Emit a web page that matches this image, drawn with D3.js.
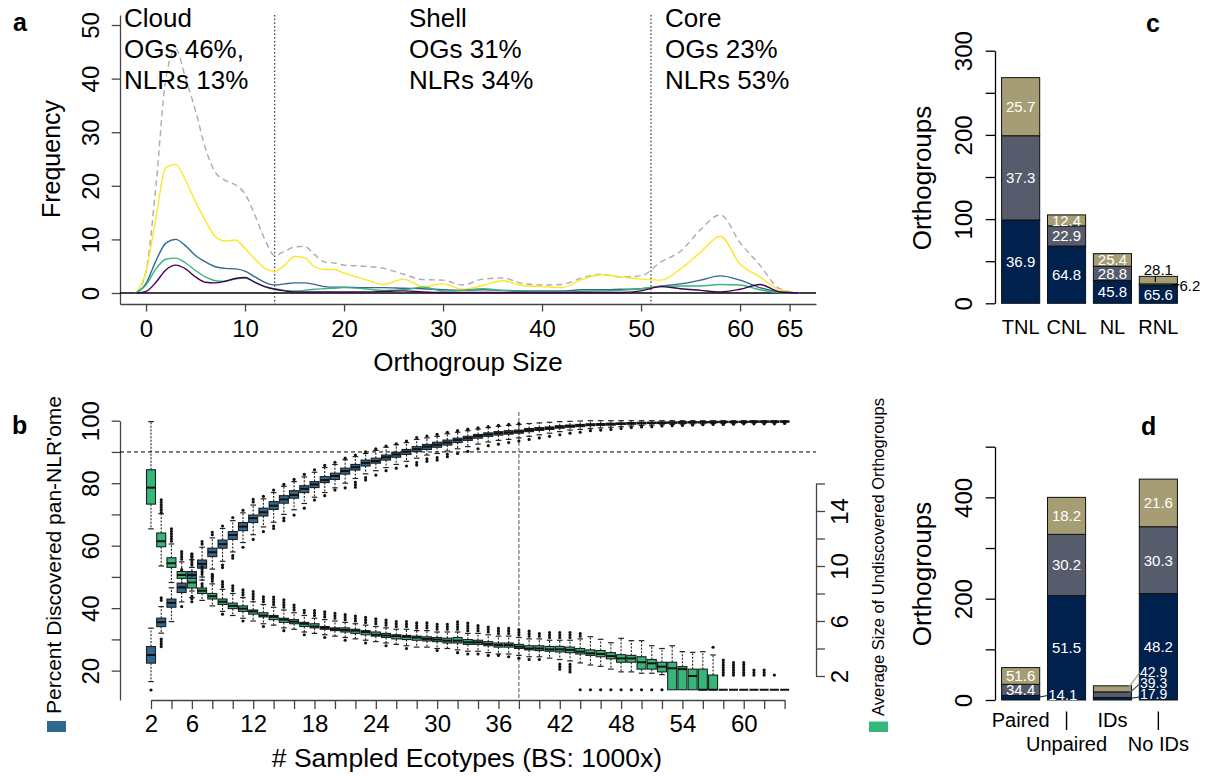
<!DOCTYPE html>
<html>
<head>
<meta charset="utf-8">
<script src="https://cdn.jsdelivr.net/npm/d3@7/dist/d3.min.js"></script>
<style>
  body { margin: 0; background: #fff; }
  text { font-family: "Liberation Sans", Arial, Helvetica, sans-serif; }
</style>
</head>
<body>
<svg id="fig" width="1213" height="776"></svg>
<script>
// ---------------- data: panel a (orthogroup size densities) ----------------
var ogSizes = [-1,0,1,2,3,4,5,6,7,8,9,10,11,12,13,14,15,16,17,18,19,20,22,24,26,28,30,32,34,36,38,40,42,44,46,48,50,52,54,56,58,60,62,64,66];
var densTotal  = [0,4,20,40,45.5,40,34,27,22.5,21,20.2,18.5,14.5,10,7,7.8,8.6,8.7,7.2,5.8,5.6,5.2,5.0,4.6,3.5,2.5,2.4,1.5,2.6,2.8,1.8,1.5,1.6,2.8,3.5,3.0,3.2,5.8,7.8,11.8,14.6,9.4,5.2,0.8,0];
var densYellow = [0,4,14,23.5,24,21,17,13.5,10.5,9.7,9.9,8.3,6.3,4.6,4.0,5.2,6.8,6.6,4.9,4.4,4.4,3.7,2.6,1.6,2.6,1.2,1.7,0.7,1.4,2.3,1.4,1.2,1.0,2.5,3.4,3.0,2.6,2.4,4.5,7.6,10.6,5.4,3.0,0.6,0];
var densBlue   = [0,1.8,6,9.3,10,8.8,7,5.8,4.9,4.6,4.5,4.1,3,2,1.5,1.7,1.9,1.9,1.6,1.2,1.1,1.1,1.0,1.0,0.9,0.8,0.6,0.5,0.6,0.5,0.4,0.4,0.4,0.6,0.6,0.7,0.8,1.3,1.7,2.4,3.2,2.4,1.0,0.2,0];
var densGreen  = [0,1.5,4.5,6.3,6.5,5.6,4.2,3,2.3,2.2,2.6,2.8,2.0,1.2,0.8,0.5,0.4,0.5,0.7,0.8,0.9,1.0,0.8,0.5,0.6,1.1,0.4,0.5,0.8,0.5,0.3,0.2,0.2,0.3,0.4,0.5,0.8,1.2,1.3,1.3,1.6,1.5,0.6,0.1,0];
var densPurple = [0,0.3,2,4.3,5.2,4.5,3,2,1.9,2.2,2.7,2.9,2,1.2,0.7,0.4,0.2,0.2,0.2,0.2,0.2,0.2,0.2,0.3,0.4,0.2,0.1,0.1,0.1,0.1,0.1,0.1,0.1,0.1,0.1,0.1,0.4,1.2,0.8,0.5,0.2,0.7,1.6,0.2,0];
var sizeTicks = [0,10,20,30,40,50,60,65];
var freqTicks = [0,10,20,30,40,50];
var regionCuts = [13, 51];
var regionNames = ["Cloud", "Shell", "Core"];
var regionOGs = ["OGs 46%,", "OGs 31%", "OGs 23%"];
var regionNLRs = ["NLRs 13%", "NLRs 34%", "NLRs 53%"];

// ---------------- data: panel b (rarefaction boxplots, n = 2..64) ----------------
var ecotypes = d3.range(2, 65);
var ecoTickLabels = [2,6,12,18,24,30,36,42,48,54,60];
var pctTickLabels = [20,40,60,80,100];
var sizeTickLabels = [2,6,10,14];
var saturationPct = 90;
var saturationN = 38;

// percent of pan-NLR'ome discovered (left axis)
var pctMed = [25,35.5,41.7,46.6,50.6,54.2,57.9,60.5,63.4,66.1, 68.8,70.7,72.8,74.8,76.2,78.2,79.6,81.0,82.3,83.9, 85.1,86.5,87.1,88.3,89.2,90.1,90.9,91.7,92.3,93.0, 93.8,94.4,95.1,95.6,96.0,96.2,96.5,97.0,97.3,97.6, 98.0,98.3,98.5,98.7,98.8,98.9,99.0,99.1,99.2,99.3, 99.3,99.4,99.4,99.5,99.5,99.5,99.6,99.6,99.6,99.7, 99.7,99.7,99.7];
var pctQ1  = [22.4,34.1,40.3,45.0,49.0,52.8,56.5,59.2,62.0,64.8, 67.4,69.5,71.6,73.6,75.2,77.0,78.6,80.2,81.2,82.9, 84.2,85.5,86.4,87.4,88.3,89.2,90.1,90.8,91.5,92.2, 93.0,93.7,94.4,95.0,95.4,95.7,96.0,96.5,96.9,97.2, 97.6,97.9,98.1,98.4,98.5,98.6,98.8,98.9,99.0,99.1, 99.1,99.2,99.2,99.3,99.3,99.4,99.4,99.4,99.5,99.5, 99.5,99.5,99.6];
var pctQ3  = [27.7,36.8,42.9,48.0,51.7,55.4,59.2,61.8,64.5,67.4, 69.8,72.0,74.1,76.0,77.6,79.2,80.5,82.1,83.2,84.8, 86.0,87.4,88.0,89.0,89.9,90.8,91.7,92.4,93.1,93.8, 94.4,95.0,95.6,96.1,96.5,96.8,97.0,97.5,97.8,98.0, 98.4,98.6,98.8,99.0,99.1,99.2,99.3,99.4,99.5,99.5, 99.6,99.6,99.7,99.7,99.7,99.8,99.8,99.8,99.8,99.9, 99.9,99.9,99.9];
var pctWhiHi = [33.6,40.5,46.5,51.3,55.5,59.5,62.5,65.5,68.0,70.5, 73.0,75.0,77.0,79.0,80.5,82.0,83.5,85.0,86.0,87.5, 88.5,89.5,90.5,91.5,92.3,93.0,94.0,94.5,95.0,95.8, 96.3,96.8,97.3,97.8,98.2,98.5,98.8,99.1,99.3,99.5, 99.7,99.8,99.9,100,100,100,100,100,100,100, 100,100,100,100,100,100,100,100,100,100, 100,100,100];
var pctWhiLo = [16.5,32.0,35.7,42.0,45.5,49.0,52.5,55.0,58.0,61.0, 63.5,66.0,67.5,70.0,71.5,73.5,75.5,77.0,78.5,80.0, 81.5,83.0,84.0,85.0,86.0,87.0,88.0,89.0,89.5,90.3, 91.0,91.7,92.5,93.2,93.7,94.0,94.5,95.0,95.5,96.0, 96.5,97.0,97.2,97.5,97.7,97.9,98.1,98.3,98.5,98.6, 98.7,98.8,98.9,99.0,99.0,99.1,99.1,99.2,99.2,99.3, 99.3,99.3,99.4];
// outlier clusters: [n, from, to]
var pctOutliers = [
  [3,42.5,43.7],[5,52.3,53.0],[6,56.6,57.6],[7,60.5,61.5],[8,63.5,64.5],[9,66.3,67.0],[10,69.0,69.8],[11,71.3,72.0],
  [12,74.0,75.2],[13,75.8,76.5],[14,77.8,78.1],[15,79.6,80.0],[16,81.2,81.5],[17,82.8,83.5],[18,84.3,84.8],[19,85.7,86.0],
  [20,86.7,87.1],[21,88.0,88.3],[22,89.0,89.2],[23,90.0,90.3],[24,91.0,91.2],[25,91.9,92.0],[26,92.6,92.7],[27,93.5,93.8],
  [28,94.6,95.4],[29,95.1,95.5],[30,95.6,96.0],[31,96.3,96.5],[32,96.8,97.2],[33,97.3,97.5],[34,97.7,97.8],[35,98.1,98.2],
  [36,98.5,98.6],[37,98.8,98.9],[38,99.1,99.2],
  [2,13.8,13.8],[3,27.7,30.5],[5,40.5,41.2],[6,43.0,44.5],[7,47.0,48.0],[8,50.0,51.5],[9,53.0,54.0],[10,56.0,57.0],
  [11,59.5,60.0],[12,62.0,62.5],[13,64.5,65.0],[14,65.5,66.5],[15,68.0,69.0],[16,69.8,70.5],[17,72.0,72.8],[18,74.6,75.0],
  [19,76.0,76.5],[20,77.8,78.0],[21,78.5,79.2],[22,78.7,80.5],[23,81.0,82.0],[24,82.6,83.2],[25,84.0,84.3],[26,84.8,85.2],
  [27,85.5,86.3],[28,85.8,87.0],[29,87.0,88.0],[30,87.4,88.5],[31,88.5,89.5],[32,89.5,90.3],[33,90.2,91.0],[34,91.0,91.8],
  [35,92.0,92.5],[36,92.5,93.0],[37,93.0,93.5],[38,93.5,94.0],[39,94.0,94.5],[40,94.5,95.0],[41,95.0,95.5],[42,95.5,96.0],
  [43,96.0,96.5],[44,96.3,96.8],[45,96.8,97.1],[46,97.0,97.3],[47,97.2,97.5],[48,97.5,97.7],[49,97.8,98.0],[50,98.0,98.2],
  [51,98.1,98.3],[52,98.3,98.5],[53,98.4,98.6],[54,98.5,98.7],[55,98.6,98.8],[56,98.7,98.8],[57,98.8,98.9],[58,98.8,98.9],
  [59,98.9,99.0],[60,99.0,99.0],[61,99.0,99.1],[62,99.0,99.1],[63,99.0,99.1],[64,99.1,99.2]
];

// average size of undiscovered orthogroups (right axis)
var sizeMed = [15.7,11.8,10.2,9.35,8.8,8.2,7.8,7.4,7.1,6.9, 6.7,6.4,6.3,6.1,5.95,5.8,5.6,5.5,5.4,5.35, 5.3,5.2,5.0,4.95,4.9,4.85,4.8,4.7,4.65,4.57, 4.57,4.45,4.45,4.33,4.25,4.25,4.13,4.0,4.0,3.94, 3.94,3.9,3.77,3.65,3.6,3.45,3.28,3.28,3.0,2.92, 2.68,2.56,2.5,2.0,1.0,1.0,1.0,1.0,1.0,1.0, 1.0,1.0,1.0];
var sizeQ1  = [14.5,11.4,9.9,9.1,8.4,8.0,7.6,7.2,6.9,6.7, 6.5,6.3,6.1,5.9,5.8,5.6,5.5,5.4,5.3,5.2, 5.1,5.0,4.9,4.8,4.7,4.65,4.6,4.55,4.5,4.4, 4.4,4.3,4.3,4.2,4.1,4.1,4.0,3.9,3.85,3.8, 3.75,3.7,3.6,3.5,3.4,3.25,3.0,3.0,2.5,2.5, 2.3,1.0,1.0,1.0,1.0,1.0,1.0,1.0,1.0,1.0, 1.0,1.0,1.0];
var sizeQ3  = [17.0,12.4,10.6,9.6,9.1,8.4,8.0,7.6,7.3,7.1, 6.8,6.6,6.4,6.2,6.1,5.9,5.8,5.6,5.5,5.5, 5.4,5.3,5.2,5.1,5.0,4.95,4.9,4.85,4.8,4.75, 4.8,4.65,4.6,4.5,4.4,4.4,4.3,4.2,4.2,4.15, 4.15,4.1,4.0,3.9,3.85,3.7,3.55,3.5,3.4,3.2, 3.0,3.0,2.68,2.5,2.5,2.07,1.0,1.0,1.0,1.0, 1.0,1.0,1.0];
var sizeWhiHi = [20.5,13.8,11.6,10.3,9.9,9.2,8.7,8.3,8.0,7.7, 7.4,7.2,7.0,6.8,6.6,6.4,6.2,6.1,6.0,5.9, 5.8,5.7,5.6,5.5,5.4,5.4,5.3,5.3,5.2,5.2, 5.2,5.1,5.1,5.0,4.9,4.9,4.8,4.7,4.7,4.6, 4.6,4.6,4.7,4.86,4.67,4.42,4.74,4.57,4.57,4.2, 4.0,4.2,3.77,3.72,3.77,3.53,1.0,1.0,1.0,1.0, 1.0,1.0,1.0];
var sizeWhiLo = [12.7,10.0,8.8,8.5,7.7,7.5,7.1,6.7,6.4,6.2, 6.0,5.8,5.7,5.5,5.4,5.2,5.1,5.0,4.9,4.8, 4.7,4.6,4.5,4.4,4.3,4.2,4.1,4.1,4.0,4.0, 3.9,3.8,3.8,3.7,3.6,3.6,3.5,3.4,3.4,3.3, 3.2,3.1,2.95,2.8,2.7,2.5,2.3,2.3,2.2,2.2, 2.1,1.0,1.0,1.0,1.0,1.0,1.0,1.0,1.0,1.0, 1.0,1.0,1.0];
var sizeOutliers = [
  [3,13.9,14.9],[4,11.8,12.8],[5,10.5,11.2],[6,10.1,10.9],[7,9.4,10.0],[8,8.9,9.4],[9,8.5,9.0],[10,8.2,8.6],[11,7.9,8.4],
  [12,7.6,8.2],[13,7.4,7.9],[14,7.2,7.8],[15,7.0,7.6],[16,6.8,7.2],[17,6.6,6.9],[18,6.4,6.8],[19,6.3,6.7],[20,6.2,6.6],
  [21,6.1,6.5],[22,6.0,6.4],[23,5.9,6.3],[24,5.8,6.2],[25,5.7,6.1],[26,5.6,6.1],[27,5.6,6.0],[28,5.5,6.0],[29,5.5,5.9],
  [30,5.4,5.9],[31,5.4,5.9],[32,5.4,6.0],[33,5.3,5.9],[34,5.3,5.7],[35,5.2,5.6],[36,5.1,5.6],[37,5.1,5.5],[38,5.0,5.5],
  [39,4.9,5.4],[40,4.9,5.2],[41,4.8,5.3],[42,4.8,5.3],[43,4.8,5.2],[44,4.9,5.1],[57,4.09,4.09],
  [58,2.07,3.29],[59,2.07,3.04],[60,2.07,3.04],[61,2.07,2.58],[62,2.07,2.58],[63,2.07,2.07],
  [6,7.4,7.5],[9,6.5,6.6],[11,6.0,6.1],[13,5.6,5.7],[15,5.3,5.4],[17,5.0,5.1],[19,4.8,4.9],[21,4.6,4.7],[23,4.4,4.5],
  [25,4.2,4.3],[27,4.0,4.1],[30,3.85,3.9],[32,3.7,3.8],[33,3.6,3.7],[34,3.6,3.7],[35,3.5,3.6],[36,3.5,3.5],[37,3.4,3.5],
  [38,3.3,3.4],[39,3.2,3.3],[40,3.2,3.3],[42,2.5,3.0],[43,2.3,2.9],
  [44,1.0,1.0],[45,1.0,1.0],[46,1.0,1.0],[47,1.0,1.0],[48,1.0,1.0],[49,1.0,1.0],[50,1.0,1.0],[51,1.0,1.0],[52,1.0,1.0]
];

// ---------------- data: panels c and d (stacked bars) ----------------
var classColors = ["#00204D", "#575C6D", "#A69D75"];
var cCats = ["TNL", "CNL", "NL", "RNL"];
var cDark = [99, 68, 27, 21];
var cMid = [100, 24, 17, 2];
var cLight = [69, 13, 15, 9];
var cDarkPct = ["36.9", "64.8", "45.8", "65.6"];
var cMidPct = ["37.3", "22.9", "28.8", "6.2"];
var cLightPct = ["25.7", "12.4", "25.4", "28.1"];

var dCats = ["Paired", "Unpaired", "IDs", "No IDs"];
var dDark = [9, 206, 5, 210];
var dMid = [22, 121, 11, 132];
var dLight = [33, 73, 12, 94];
var dDarkPct = ["14.1", "51.5", "17.9", "48.2"];
var dMidPct = ["34.4", "30.2", "39.3", "30.3"];
var dLightPct = ["51.6", "18.2", "42.9", "21.6"];

// ---------------------------------------------------------------------------
var svg = d3.select("#fig");
var FONT = '"Liberation Sans", Arial, Helvetica, sans-serif';
var axisCol = "#444";

function styleAxis(g, col, size) {
	g.attr("font-family", FONT).attr("font-size", size);
	g.select(".domain").attr("stroke", col).attr("stroke-width", 1.3);
	g.selectAll(".tick line").attr("stroke", col).attr("stroke-width", 1.3);
	g.selectAll(".tick text").attr("fill", "#000");
}

// rotate the labels of a vertical axis so they read bottom to top
function rotateLabels(g, dx) {
	g.selectAll(".tick text")
	    .attr("x", 0).attr("dy", 0)
	    .attr("text-anchor", "middle")
	    .attr("transform", "translate(" + dx + ",0) rotate(-90)");
}

function only(list) {
	return function(d) { return list.indexOf(d) >= 0 ? d : ""; };
}

// ======================= panel a =======================
var xA = d3.scaleLinear().domain([-2.63, 67.67]).range([120, 816]);
var yA = d3.scaleLinear().domain([-2.05, 51.87]).range([304, 15]);
var gA = svg.append("g");

var axA = gA.append("g").attr("transform", "translate(0,304)")
    .call(d3.axisBottom(xA).tickValues(sizeTicks).tickSize(7.5).tickSizeOuter(0));
styleAxis(axA, axisCol, 24);
axA.selectAll(".tick text").attr("dy", 0).attr("y", 32.7);

var ayA = gA.append("g").attr("transform", "translate(120,0)")
    .call(d3.axisLeft(yA).tickValues(freqTicks).tickSize(8.3).tickSizeOuter(0));
styleAxis(ayA, axisCol, 24);
rotateLabels(ayA, -20.7);

// zero line
gA.append("line")
    .attr("x1", 120).attr("x2", 816)
    .attr("y1", yA(0)).attr("y2", yA(0))
    .attr("stroke", "#000").attr("stroke-width", 1.4);

// region borders
gA.selectAll("line.cut").data(regionCuts).enter().append("line")
    .attr("class", "cut")
    .attr("x1", function(d) { return xA(d); }).attr("x2", function(d) { return xA(d); })
    .attr("y1", 15).attr("y2", 304)
    .attr("stroke", "#000").attr("stroke-width", 1)
    .attr("stroke-dasharray", "1.5,2.2");

// density curves
var lineA = d3.line()
    .x(function(d, i) { return xA(ogSizes[i]); })
    .y(function(d) { return yA(d); })
    .curve(d3.curveMonotoneX);

var curves = [
	{ vals: densTotal, color: "#ababab", dash: "6,4" },
	{ vals: densYellow, color: "#FDE725", dash: null },
	{ vals: densBlue, color: "#31688E", dash: null },
	{ vals: densGreen, color: "#35B779", dash: null },
	{ vals: densPurple, color: "#440154", dash: null }
];
curves.forEach(function(c) {
	gA.append("path")
	    .attr("d", lineA(c.vals))
	    .attr("fill", "none")
	    .attr("stroke", c.color)
	    .attr("stroke-width", 1.4)
	    .attr("stroke-dasharray", c.dash);
});

// region annotations
var regionX = [124, 409, 665];
regionNames.forEach(function(name, i) {
	var t = gA.append("text").attr("font-size", 26).attr("fill", "#000");
	[name, regionOGs[i], regionNLRs[i]].forEach(function(s, k) {
		t.append("tspan").attr("x", regionX[i]).attr("y", 27 + k * 31).text(s);
	});
});

gA.append("text")
    .attr("transform", "translate(60,159) rotate(-90)")
    .attr("text-anchor", "middle").attr("font-size", 25)
    .text("Frequency");
gA.append("text")
    .attr("x", 468).attr("y", 371)
    .attr("text-anchor", "middle").attr("font-size", 26)
    .text("Orthogroup Size");

// ======================= panel b =======================
var xB = d3.scaleLinear().domain([2, 64]).range([151, 784.6]);
var yL = d3.scaleLinear().domain([10.6, 100]).range([700, 420.7]);
var yR = d3.scaleLinear().domain([2, 16]).range([676, 483.5]);
var gB = svg.append("g");

var axB = gB.append("g").attr("transform", "translate(0,700)")
    .call(d3.axisBottom(xB).tickValues(d3.range(2, 65, 2)).tickSize(9).tickSizeOuter(0).tickFormat(only(ecoTickLabels)));
styleAxis(axB, axisCol, 24);
axB.selectAll(".tick text").attr("dy", 0).attr("y", 31.7);

var ayL = gB.append("g").attr("transform", "translate(120,0)")
    .call(d3.axisLeft(yL).tickValues(d3.range(20, 101, 10)).tickSize(8.3).tickSizeOuter(0).tickFormat(only(pctTickLabels)));
styleAxis(ayL, axisCol, 24);
rotateLabels(ayL, -20.7);

var ayR = gB.append("g").attr("transform", "translate(816,0)")
    .call(d3.axisRight(yR).tickValues(d3.range(2, 17, 2)).tickSize(9).tickSizeOuter(0).tickFormat(only(sizeTickLabels)));
styleAxis(ayR, axisCol, 24);
rotateLabels(ayR, 32.3);

// 90% saturation line and the ecotype count reaching it
gB.append("line")
    .attr("x1", 120).attr("x2", 816)
    .attr("y1", yL(saturationPct)).attr("y2", yL(saturationPct))
    .attr("stroke", "#000").attr("stroke-width", 1).attr("stroke-dasharray", "4,3");
gB.append("line")
    .attr("x1", xB(saturationN)).attr("x2", xB(saturationN))
    .attr("y1", 412).attr("y2", 700)
    .attr("stroke", "#555").attr("stroke-width", 1).attr("stroke-dasharray", "4,2");

var boxW = 9;

function drawBoxes(g, y, med, q1, q3, wLo, wHi, outliers, fill) {
	var rows = ecotypes.map(function(n, i) {
		return { n: n, med: med[i], q1: q1[i], q3: q3[i], lo: wLo[i], hi: wHi[i] };
	});
	var grp = g.append("g");
	var box = grp.selectAll("g").data(rows).enter().append("g")
	    .attr("transform", function(d) { return "translate(" + xB(d.n) + ",0)"; });

	// whiskers
	box.filter(function(d) { return d.hi > d.q3; }).append("line")
	    .attr("y1", function(d) { return y(d.q3); }).attr("y2", function(d) { return y(d.hi); })
	    .attr("stroke", "#222").attr("stroke-width", 1.1).attr("stroke-dasharray", "2,1.5");
	box.filter(function(d) { return d.lo < d.q1; }).append("line")
	    .attr("y1", function(d) { return y(d.q1); }).attr("y2", function(d) { return y(d.lo); })
	    .attr("stroke", "#222").attr("stroke-width", 1.1).attr("stroke-dasharray", "2,1.5");
	box.filter(function(d) { return d.hi > d.q3; }).append("line")
	    .attr("x1", -2.8).attr("x2", 2.8)
	    .attr("y1", function(d) { return y(d.hi); }).attr("y2", function(d) { return y(d.hi); })
	    .attr("stroke", "#222").attr("stroke-width", 1.2);
	box.filter(function(d) { return d.lo < d.q1; }).append("line")
	    .attr("x1", -2.8).attr("x2", 2.8)
	    .attr("y1", function(d) { return y(d.lo); }).attr("y2", function(d) { return y(d.lo); })
	    .attr("stroke", "#222").attr("stroke-width", 1.2);

	// boxes
	box.append("rect")
	    .attr("x", -boxW / 2).attr("width", boxW)
	    .attr("y", function(d) { return y(d.q3); })
	    .attr("height", function(d) { return Math.max(0, y(d.q1) - y(d.q3)); })
	    .attr("fill", fill)
	    .attr("stroke", "#1e1e1e").attr("stroke-width", 1.1);
	box.append("line")
	    .attr("x1", -boxW / 2).attr("x2", boxW / 2)
	    .attr("y1", function(d) { return y(d.med); }).attr("y2", function(d) { return y(d.med); })
	    .attr("stroke", "#111").attr("stroke-width", 2);

	// outlier clusters
	outliers.forEach(function(o) {
		var cx = xB(o[0]);
		if (o[1] === o[2]) {
			grp.append("circle").attr("cx", cx).attr("cy", y(o[1])).attr("r", 1.6).attr("fill", "#111");
		} else {
			grp.append("line")
			    .attr("x1", cx).attr("x2", cx)
			    .attr("y1", y(o[1])).attr("y2", y(o[2]))
			    .attr("stroke", "#111").attr("stroke-width", 3.2)
			    .attr("stroke-linecap", "round").attr("stroke-dasharray", "0,2.5");
		}
	});
}

drawBoxes(gB, yL, pctMed, pctQ1, pctQ3, pctWhiLo, pctWhiHi, pctOutliers, "#31688E");
drawBoxes(gB, yR, sizeMed, sizeQ1, sizeQ3, sizeWhiLo, sizeWhiHi, sizeOutliers, "#35B779");

// axis titles with colour keys
gB.append("rect").attr("x", 47).attr("y", 721).attr("width", 19).attr("height", 11).attr("fill", "#31688E");
gB.append("text")
    .attr("transform", "translate(61,714) rotate(-90)")
    .attr("font-size", 21)
    .text("Percent Discovered pan-NLR'ome");
gB.append("rect").attr("x", 869).attr("y", 721.5).attr("width", 19).attr("height", 10.5).attr("fill", "#35B779");
gB.append("text")
    .attr("transform", "translate(883.5,716) rotate(-90)")
    .attr("font-size", 16.5)
    .text("Average Size of Undiscovered Orthogroups");
gB.append("text")
    .attr("x", 467).attr("y", 767)
    .attr("text-anchor", "middle").attr("font-size", 26.5)
    .text("# Sampled Ecotypes (BS: 1000x)");

// ======================= panels c and d =======================
var keys = ["dark", "mid", "light"];

function stackedPanel(cats, dark, mid, light, yDomain, yRange, tickStep, labelStep) {
	var rows = cats.map(function(c, i) {
		return { cat: c, dark: dark[i], mid: mid[i], light: light[i] };
	});
	var x = d3.scaleBand().domain(cats).range([997, 1182]).paddingInner(0.17).paddingOuter(0.1);
	var y = d3.scaleLinear().domain(yDomain).range(yRange);
	var g = svg.append("g");

	var ay = g.append("g").attr("transform", "translate(995,0)")
	    .call(d3.axisLeft(y).tickValues(d3.range(0, yDomain[1] + 1, tickStep)).tickSize(9.3).tickSizeOuter(0)
	        .tickFormat(function(d) { return d % labelStep === 0 ? d : ""; }));
	styleAxis(ay, "#000", 24);
	rotateLabels(ay, -23.3);

	var series = d3.stack().keys(keys)(rows);
	g.selectAll("g.layer").data(series).enter().append("g")
	    .attr("class", "layer")
	    .attr("fill", function(d, i) { return classColors[i]; })
	    .selectAll("rect").data(function(d) { return d; }).enter().append("rect")
	    .attr("x", function(d) { return x(d.data.cat); })
	    .attr("width", x.bandwidth())
	    .attr("y", function(d) { return y(d[1]); })
	    .attr("height", function(d) { return y(d[0]) - y(d[1]); })
	    .attr("stroke", "#111").attr("stroke-width", 1);

	return { g: g, x: x, y: y, series: series };
}

function segLabel(p, k, i, text) {
	var seg = p.series[k][i];
	p.g.append("text")
	    .attr("x", p.x(seg.data.cat) + p.x.bandwidth() / 2)
	    .attr("y", p.y((seg[0] + seg[1]) / 2))
	    .attr("dy", "0.36em")
	    .attr("text-anchor", "middle")
	    .attr("font-size", 15).attr("fill", "#fff")
	    .text(text);
}

function leader(p, x1, y1, x2, y2, col) {
	p.g.append("line").attr("x1", x1).attr("y1", y1).attr("x2", x2).attr("y2", y2)
	    .attr("stroke", col).attr("stroke-width", 1.2);
}

// ---- panel c ----
var pc = stackedPanel(cCats, cDark, cMid, cLight, [0, 300], [303.3, 50.7], 50, 100);
[0, 1, 2].forEach(function(i) {
	segLabel(pc, 0, i, cDarkPct[i]);
	segLabel(pc, 1, i, cMidPct[i]);
	segLabel(pc, 2, i, cLightPct[i]);
});
segLabel(pc, 0, 3, cDarkPct[3]);
// small RNL segments are labelled outside the bar
var rnlX = pc.x("RNL"), rnlW = pc.x.bandwidth();
pc.g.append("text").attr("x", rnlX + rnlW / 2).attr("y", 275)
    .attr("text-anchor", "middle").attr("font-size", 15).text(cLightPct[3]);
leader(pc, rnlX + rnlW / 2 - 3, 276.5, rnlX + rnlW / 2 - 3, 282, "#000");
var rnlMid = pc.series[1][3];
pc.g.append("text").attr("x", rnlX + rnlW + 2).attr("y", 291)
    .attr("font-size", 15).text(cMidPct[3]);
leader(pc, rnlX + rnlW - 5, pc.y((rnlMid[0] + rnlMid[1]) / 2), rnlX + rnlW + 2, pc.y((rnlMid[0] + rnlMid[1]) / 2), "#000");

pc.g.selectAll("text.cat").data(cCats).enter().append("text")
    .attr("class", "cat")
    .attr("x", function(d) { return pc.x(d) + pc.x.bandwidth() / 2; })
    .attr("y", 334.3)
    .attr("text-anchor", "middle").attr("font-size", 20)
    .text(function(d) { return d; });
pc.g.append("text")
    .attr("transform", "translate(931,178) rotate(-90)")
    .attr("text-anchor", "middle").attr("font-size", 26)
    .text("Orthogroups");

// ---- panel d ----
var pd = stackedPanel(dCats, dDark, dMid, dLight, [0, 500], [700, 446.7], 100, 200);
segLabel(pd, 1, 0, dMidPct[0]);
segLabel(pd, 2, 0, dLightPct[0]);
[1, 3].forEach(function(i) {
	segLabel(pd, 0, i, dDarkPct[i]);
	segLabel(pd, 1, i, dMidPct[i]);
	segLabel(pd, 2, i, dLightPct[i]);
});
// small segments: labels moved into the neighbouring bar with leader lines
var bw = pd.x.bandwidth();
var pairedRight = pd.x("Paired") + bw;
var idsRight = pd.x("IDs") + bw;
function segMidY(k, i) { var s = pd.series[k][i]; return pd.y((s[0] + s[1]) / 2); }

leader(pd, pairedRight - 4, segMidY(0, 0), pairedRight + 8, 695.5, classColors[0]);
pd.g.append("text").attr("x", pairedRight + 8.5).attr("y", 699.5)
    .attr("font-size", 15).attr("fill", "#fff").text(dDarkPct[0]);

var idLabelY = [699.3, 687.7, 676.7];
var idTargetY = [697, 684, 673];
var idPcts = [dDarkPct[2], dMidPct[2], dLightPct[2]];
[0, 1, 2].forEach(function(k) {
	leader(pd, idsRight - 4, segMidY(k, 2), idsRight + 8, idTargetY[k], classColors[k]);
	pd.g.append("text").attr("x", idsRight + 8.5).attr("y", idLabelY[k])
	    .attr("font-size", 14).attr("fill", "#fff").text(idPcts[k]);
});

// two-row category labels
pd.g.selectAll("text.cat").data(dCats).enter().append("text")
    .attr("class", "cat")
    .attr("x", function(d) { return pd.x(d) + bw / 2; })
    .attr("y", function(d, i) { return i % 2 === 0 ? 726.7 : 751; })
    .attr("text-anchor", "middle").attr("font-size", 20)
    .text(function(d) { return d; });
pd.g.selectAll("line.sep").data([dCats[1], dCats[3]]).enter().append("line")
    .attr("class", "sep")
    .attr("x1", function(d) { return pd.x(d) + bw / 2; })
    .attr("x2", function(d) { return pd.x(d) + bw / 2; })
    .attr("y1", 711.5).attr("y2", 730)
    .attr("stroke", "#000").attr("stroke-width", 1.4);
pd.g.append("text")
    .attr("transform", "translate(931,574) rotate(-90)")
    .attr("text-anchor", "middle").attr("font-size", 26)
    .text("Orthogroups");

// ======================= panel letters =======================
var letters = [["a", 13, 31], ["b", 12, 434], ["c", 1146, 32], ["d", 1141, 435]];
svg.selectAll("text.letter").data(letters).enter().append("text")
    .attr("class", "letter")
    .attr("x", function(d) { return d[1]; })
    .attr("y", function(d) { return d[2]; })
    .attr("font-size", 25).attr("font-weight", "bold")
    .text(function(d) { return d[0]; });
</script>
</body>
</html>
